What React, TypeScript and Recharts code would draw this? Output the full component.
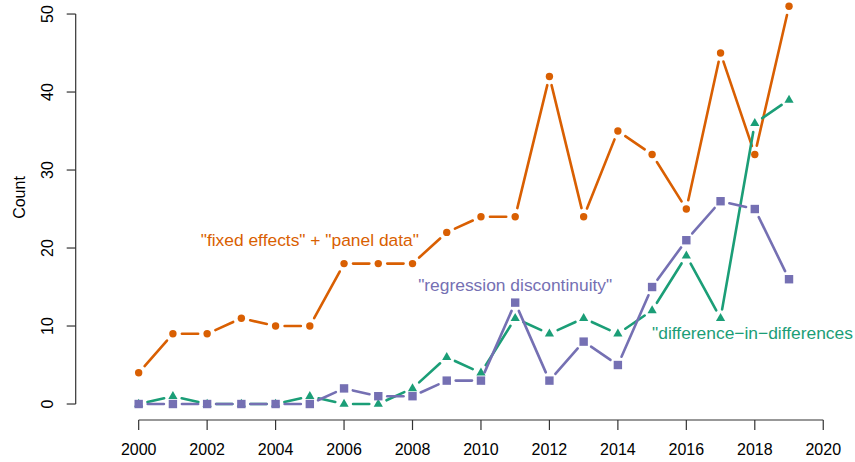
import React from "react";
import { LineChart, Line, XAxis, YAxis, ReferenceLine, ReferenceDot } from "recharts";

const years = [2000, 2001, 2002, 2003, 2004, 2005, 2006, 2007, 2008, 2009, 2010, 2011, 2012, 2013, 2014, 2015, 2016, 2017, 2018, 2019];
const fixedEffects = [4, 9, 9, 11, 10, 10, 18, 18, 18, 22, 24, 24, 42, 24, 35, 32, 25, 45, 32, 51];
const diffInDiff = [0, 1, 0, 0, 0, 1, 0, 0, 2, 6, 4, 11, 9, 11, 9, 12, 19, 11, 36, 39];
const regDisc = [0, 0, 0, 0, 0, 0, 2, 1, 1, 3, 3, 13, 3, 8, 5, 15, 21, 26, 25, 16];

const xTicks = [2000, 2002, 2004, 2006, 2008, 2010, 2012, 2014, 2016, 2018, 2020];
const yTicks = [0, 10, 20, 30, 40, 50];

const ORANGE = "#D95F02";
const GREEN = "#1B9E77";
const PURPLE = "#7570B3";
const FONT = "'Liberation Sans', Arial, Helvetica, sans-serif";

const data = years.map((year, i) => ({
  year,
  fe: fixedEffects[i],
  did: diffInDiff[i],
  rd: regDisc[i],
}));

const GAP = 9;

// R type="b": segments stop short of each point
const makeDot = (color: string, shape: "circle" | "square" | "triangle") => (props: any) => {
  const { cx, cy, index, points } = props;
  const next = points && points[index + 1];
  let seg = null;
  if (next && cx != null && next.x != null) {
    const dx = next.x - cx;
    const dy = next.y - cy;
    const len = Math.sqrt(dx * dx + dy * dy);
    if (len > 2 * GAP) {
      const ux = dx / len;
      const uy = dy / len;
      seg = (
        <line
          x1={cx + ux * GAP}
          y1={cy + uy * GAP}
          x2={next.x - ux * GAP}
          y2={next.y - uy * GAP}
          stroke={color}
          strokeWidth={2.6}
          strokeLinecap="round"
        />
      );
    }
  }
  let marker;
  if (shape === "circle") {
    marker = <circle cx={cx} cy={cy} r={3.7} fill={color} />;
  } else if (shape === "square") {
    marker = <rect x={cx - 4.2} y={cy - 4.2} width={8.4} height={8.4} fill={color} />;
  } else {
    marker = (
      <polygon
        points={`${cx},${cy - 5.2} ${cx - 4.6},${cy + 2.8} ${cx + 4.6},${cy + 2.8}`}
        fill={color}
      />
    );
  }
  return (
    <g key={`dot-${index}`}>
      {seg}
      {marker}
    </g>
  );
};

const YTick = (props: any) => {
  const { y, payload } = props;
  return (
    <text
      x={53}
      y={y}
      transform={`rotate(-90, 53, ${y})`}
      textAnchor="middle"
      fontSize={16}
      fill="#000"
      fontFamily={FONT}
    >
      {payload.value}
    </text>
  );
};

const annotation = (text: string, color: string, anchor: "middle" | "start" = "middle") => (props: any) => {
  const vb = props.viewBox;
  return (
    <text
      x={vb.x + vb.width / 2}
      y={vb.y + vb.height / 2}
      textAnchor={anchor}
      dominantBaseline="central"
      fontSize={17.4}
      fill={color}
      fontFamily={FONT}
    >
      {text}
    </text>
  );
};

export default function App() {
  return (
    <div style={{ position: "absolute", left: 0, top: 0, fontFamily: FONT, background: "#fff" }}>
      <LineChart width={855} height={462} data={data} margin={{ top: 0, right: 3, bottom: 0, left: 0 }}>
        <XAxis
          dataKey="year"
          type="number"
          domain={[1998.16, 2020.84]}
          allowDataOverflow
          ticks={xTicks}
          interval={0}
          height={42}
          axisLine={false}
          tickSize={10}
          tickMargin={14}
          tickLine={{ stroke: "#333", strokeWidth: 1.2 }}
          tick={{ fontSize: 16, fill: "#000", fontFamily: FONT }}
        />
        <YAxis
          type="number"
          domain={[-2.05, 51.8]}
          allowDataOverflow
          ticks={yTicks}
          interval={0}
          width={75.7}
          axisLine={false}
          tickSize={9}
          tickLine={{ stroke: "#333", strokeWidth: 1.2 }}
          tick={<YTick />}
          label={() => (
            <text
              x={25}
              y={197.5}
              transform="rotate(-90, 25, 197.5)"
              textAnchor="middle"
              fontSize={16}
              fill="#000"
              fontFamily={FONT}
            >
              Count
            </text>
          )}
        />
        <ReferenceLine
          segment={[{ x: 2000, y: -2.05 }, { x: 2020, y: -2.05 }]}
          stroke="#333"
          strokeWidth={1.2}
          ifOverflow="visible"
        />
        <ReferenceLine
          segment={[{ x: 1998.16, y: 0 }, { x: 1998.16, y: 50 }]}
          stroke="#333"
          strokeWidth={1.2}
          ifOverflow="visible"
        />
        <Line
          dataKey="fe"
          stroke="none"
          dot={makeDot(ORANGE, "circle")}
          activeDot={false}
          isAnimationActive={false}
        />
        <Line
          dataKey="did"
          stroke="none"
          dot={makeDot(GREEN, "triangle")}
          activeDot={false}
          isAnimationActive={false}
        />
        <Line
          dataKey="rd"
          stroke="none"
          dot={makeDot(PURPLE, "square")}
          activeDot={false}
          isAnimationActive={false}
        />
        <ReferenceDot
          x={2005}
          y={21}
          r={1}
          fill="none"
          stroke="none"
          ifOverflow="visible"
          label={annotation('"fixed effects" + "panel data"', ORANGE)}
        />
        <ReferenceDot
          x={2011}
          y={15.3}
          r={1}
          fill="none"
          stroke="none"
          ifOverflow="visible"
          label={annotation('"regression discontinuity"', PURPLE)}
        />
        <ReferenceDot
          x={2015}
          y={9.1}
          r={1}
          fill="none"
          stroke="none"
          ifOverflow="visible"
          label={annotation('"difference\u2212in\u2212differences', GREEN, "start")}
        />
      </LineChart>
    </div>
  );
}
